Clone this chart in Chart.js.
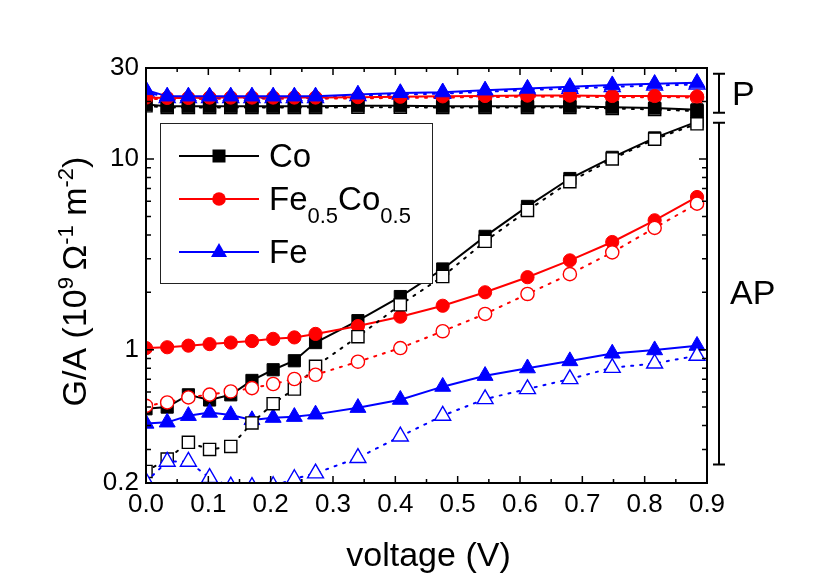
<!DOCTYPE html>
<html>
<head>
<meta charset="utf-8">
<script src="https://cdn.jsdelivr.net/npm/chart.js"></script>
<style>
    body { margin: 0; background: #fff; }
    #wrap { width: 822px; height: 581px; }
</style>
</head>
<body>
<div id="wrap"><canvas id="gaChart" width="822" height="581"></canvas></div>
<script>
// voltage points (V)
const voltage = [0, 0.034, 0.068, 0.102, 0.136, 0.17, 0.204, 0.238, 0.272, 0.34, 0.408, 0.476, 0.544, 0.612, 0.68, 0.748, 0.816, 0.884];

// Co
const coP      = [19.3, 18.9, 18.9, 18.9, 18.9, 18.9, 18.9, 18.9, 18.9, 19.0, 19.0, 18.9, 18.9, 18.9, 18.9, 18.7, 18.5, 18.1];
const coPOpen  = [19.0, 18.6, 18.6, 18.6, 18.6, 18.6, 18.6, 18.6, 18.6, 18.7, 18.7, 18.6, 18.6, 18.6, 18.6, 18.4, 18.2, 17.8];
const coAP     = [0.49, 0.50, 0.58, 0.545, 0.58, 0.69, 0.785, 0.875, 1.09, 1.42, 1.9, 2.65, 3.93, 5.64, 7.9, 10.2, 12.9, 15.7];
const coAPOpen = [0.23, 0.267, 0.327, 0.30, 0.311, 0.413, 0.521, 0.622, 0.818, 1.17, 1.72, 2.42, 3.70, 5.37, 7.6, 10.0, 12.7, 15.3];

// Fe0.5Co0.5
const feCoP      = [21.0, 20.9, 20.9, 21.0, 21.0, 21.0, 21.0, 21.0, 21.0, 21.1, 21.2, 21.3, 21.4, 21.5, 21.5, 21.4, 21.4, 21.3];
const feCoPOpen  = [20.7, 20.6, 20.6, 20.7, 20.7, 20.7, 20.7, 20.7, 20.7, 20.8, 20.9, 21.0, 21.1, 21.2, 21.2, 21.1, 21.1, 21.0];
const feCoAP     = [1.02, 1.03, 1.05, 1.07, 1.09, 1.11, 1.14, 1.16, 1.21, 1.33, 1.49, 1.70, 2.0, 2.40, 2.94, 3.67, 4.77, 6.32];
const feCoAPOpen = [0.508, 0.529, 0.562, 0.581, 0.604, 0.629, 0.661, 0.702, 0.739, 0.865, 1.02, 1.25, 1.54, 1.96, 2.49, 3.24, 4.35, 5.83];

// Fe
const feP      = [23.0, 21.3, 21.3, 21.3, 21.3, 21.3, 21.3, 21.3, 21.3, 21.8, 22.2, 22.4, 22.9, 23.4, 23.9, 24.4, 24.8, 25.1];
const fePOpen  = [22.6, 20.9, 20.9, 20.9, 20.9, 20.9, 20.9, 20.9, 20.9, 21.4, 21.8, 22.0, 22.5, 23.0, 23.4, 23.9, 24.3, 24.6];
const feAP     = [0.41, 0.416, 0.45, 0.468, 0.455, 0.428, 0.44, 0.445, 0.458, 0.496, 0.547, 0.64, 0.73, 0.80, 0.872, 0.956, 0.995, 1.05];
const feAPOpen = [0.203, 0.259, 0.259, 0.213, 0.192, 0.191, 0.193, 0.21, 0.225, 0.271, 0.351, 0.451, 0.551, 0.622, 0.702, 0.804, 0.847, 0.93];

// axes
const xTicks = [0, 0.1, 0.2, 0.3, 0.4, 0.5, 0.6, 0.7, 0.8, 0.9];
const xMinorTicks = [0.05, 0.15, 0.25, 0.35, 0.45, 0.55, 0.65, 0.75, 0.85];
const yTickLabels = [0.2, 1, 10, 30];
const yMinorTicks = [0.3, 0.4, 0.5, 0.6, 0.7, 0.8, 0.9, 2, 3, 4, 5, 6, 7, 8, 9, 20];

// bracket ranges on the right (G/A values)
const pRange = [17.5, 28];
const apRange = [0.25, 15.5];

const FONT = '"Liberation Sans", Arial, sans-serif';
const BLACK = '#000000';
const RED = '#ff0000';
const BLUE = '#0000ff';

const legendItems = [
    { color: BLACK, style: 'rect', parts: [{ t: 'Co' }] },
    { color: RED, style: 'circle', parts: [{ t: 'Fe' }, { t: '0.5', sub: true }, { t: 'Co' }, { t: '0.5', sub: true }] },
    { color: BLUE, style: 'triangle', parts: [{ t: 'Fe' }] }
];

function pts(values) {
    return values.map((v, i) => ({ x: voltage[i], y: v }));
}

function series(values, color, style, radius, open, order) {
    return {
        data: pts(values),
        borderColor: color,
        borderWidth: 2,
        borderDash: open ? [2, 7] : [],
        borderCapStyle: 'round',
        pointStyle: style,
        pointRadius: radius,
        pointBackgroundColor: open ? '#ffffff' : color,
        pointBorderColor: color,
        pointBorderWidth: open ? 1.4 : 1,
        tension: 0,
        clip: 0,
        order: order
    };
}

// draw a marker by hand (legend)
function drawMarker(ctx, style, x, y, color) {
    ctx.fillStyle = color;
    ctx.beginPath();
    if (style === 'rect') {
        ctx.rect(x - 6.5, y - 6.5, 13, 13);
    } else if (style === 'circle') {
        ctx.arc(x, y, 6.8, 0, Math.PI * 2);
    } else {
        ctx.moveTo(x, y - 9);
        ctx.lineTo(x + 8, y + 5);
        ctx.lineTo(x - 8, y + 5);
        ctx.closePath();
    }
    ctx.fill();
}

// text with sub/superscripts, returns width
function richWidth(ctx, parts, size, small) {
    let w = 0;
    parts.forEach(p => {
        ctx.font = ((p.sub || p.sup) ? small : size) + 'px ' + FONT;
        w += ctx.measureText(p.t).width;
    });
    return w;
}

function drawRich(ctx, parts, x, y, size, small, shift) {
    let cx = x;
    parts.forEach(p => {
        ctx.font = ((p.sub || p.sup) ? small : size) + 'px ' + FONT;
        let dy = p.sub ? shift : (p.sup ? -shift : 0);
        ctx.fillText(p.t, cx, y + dy);
        cx += ctx.measureText(p.t).width;
    });
}

const decorPlugin = {
    id: 'decor',
    afterDraw(chart) {
        const { ctx, chartArea: a, scales: { x, y } } = chart;
        ctx.save();

        // frame
        ctx.strokeStyle = BLACK;
        ctx.lineWidth = 2;
        ctx.strokeRect(a.left, a.top, a.right - a.left, a.bottom - a.top);

        // inward ticks on all four sides
        ctx.lineWidth = 1.5;
        ctx.beginPath();
        const xt = (v, len) => {
            const px = x.getPixelForValue(v);
            ctx.moveTo(px, a.bottom); ctx.lineTo(px, a.bottom - len);
            ctx.moveTo(px, a.top); ctx.lineTo(px, a.top + len);
        };
        const yt = (v, len) => {
            const py = y.getPixelForValue(v);
            ctx.moveTo(a.left, py); ctx.lineTo(a.left + len, py);
            ctx.moveTo(a.right, py); ctx.lineTo(a.right - len, py);
        };
        xTicks.forEach(v => xt(v, 7));
        xMinorTicks.forEach(v => xt(v, 4));
        yTickLabels.forEach(v => yt(v, 8));
        yMinorTicks.forEach(v => yt(v, 5));
        ctx.stroke();

        // P / AP brackets
        const bx = a.right + 12;
        ctx.lineWidth = 2;
        ctx.beginPath();
        [pRange, apRange].forEach(r => {
            const y0 = y.getPixelForValue(r[1]);
            const y1 = y.getPixelForValue(r[0]);
            ctx.moveTo(bx, y0); ctx.lineTo(bx, y1);
            ctx.moveTo(bx - 6, y0); ctx.lineTo(bx + 6, y0);
            ctx.moveTo(bx - 6, y1); ctx.lineTo(bx + 6, y1);
        });
        ctx.stroke();
        ctx.fillStyle = BLACK;
        ctx.font = '34px ' + FONT;
        ctx.textBaseline = 'alphabetic';
        ctx.textAlign = 'left';
        ctx.fillText('P', bx + 13, y.getPixelForValue(Math.sqrt(pRange[0] * pRange[1])) + 12);
        ctx.fillText('AP', bx + 11, y.getPixelForValue(Math.sqrt(apRange[0] * apRange[1])) + 10);

        // legend
        const lx = 160, ly = 123, lw = 272, lh = 160;
        ctx.fillStyle = '#ffffff';
        ctx.fillRect(lx, ly, lw, lh);
        ctx.strokeStyle = '#222222';
        ctx.lineWidth = 1;
        ctx.strokeRect(lx + 0.5, ly + 0.5, lw, lh);
        const rows = [156, 199, 252];
        legendItems.forEach((item, i) => {
            const ry = rows[i];
            ctx.strokeStyle = item.color;
            ctx.lineWidth = 2;
            ctx.beginPath();
            ctx.moveTo(lx + 19, ry); ctx.lineTo(lx + 99, ry);
            ctx.stroke();
            drawMarker(ctx, item.style, lx + 59, ry, item.color);
            ctx.fillStyle = BLACK;
            drawRich(ctx, item.parts, lx + 109, ry + 11, 33, 22, 13);
        });

        // x title
        ctx.fillStyle = BLACK;
        ctx.font = '34px ' + FONT;
        ctx.textAlign = 'center';
        ctx.fillText('voltage (V)', (a.left + a.right) / 2 + 2, 566);

        // y title, rotated
        const yParts = [
            { t: 'G/A (10' }, { t: '9', sup: true }, { t: '\u2009\u03A9' }, { t: '-1', sup: true },
            { t: ' m' }, { t: '-2', sup: true }, { t: ')' }
        ];
        ctx.textAlign = 'left';
        const w = richWidth(ctx, yParts, 34, 22);
        ctx.translate(86, (a.top + a.bottom) / 2 + 6);
        ctx.rotate(-Math.PI / 2);
        drawRich(ctx, yParts, -w / 2, 0, 34, 22, 13);

        ctx.restore();
    }
};

const datasets = [
    series(feAPOpen, BLUE, 'triangle', 9.2, true, 1),
    series(feCoAPOpen, RED, 'circle', 6.6, true, 2),
    series(coAPOpen, BLACK, 'rect', 8.6, true, 3),
    series(feAP, BLUE, 'triangle', 9.2, false, 4),
    series(feCoAP, RED, 'circle', 6.6, false, 5),
    series(coAP, BLACK, 'rect', 8.6, false, 6),
    series(feP, BLUE, 'triangle', 9.2, false, 7),
    series(feCoP, RED, 'circle', 6.6, false, 8),
    series(coP, BLACK, 'rect', 8.6, false, 9),
    series(fePOpen, BLUE, 'triangle', 9.2, true, 10),
    series(feCoPOpen, RED, 'circle', 6.6, true, 11),
    series(coPOpen, BLACK, 'rect', 8.6, true, 12)
];

new Chart(document.getElementById('gaChart'), {
    type: 'line',
    data: { datasets: datasets },
    options: {
        responsive: false,
        animation: false,
        events: [],
        layout: { padding: { left: 0, right: 115, top: 68, bottom: 0 } },
        plugins: {
            legend: { display: false },
            tooltip: { enabled: false }
        },
        scales: {
            x: {
                type: 'linear',
                position: 'bottom',
                min: 0,
                max: 0.9,
                grid: { display: false, drawTicks: false },
                border: { display: false },
                afterBuildTicks: (scale) => { scale.ticks = xTicks.map(v => ({ value: v })); },
                afterFit: (scale) => { scale.height = 98; },
                ticks: {
                    color: BLACK,
                    padding: 6,
                    maxRotation: 0,
                    font: { family: FONT, size: 26 },
                    callback: (v) => Number(v).toFixed(1)
                }
            },
            y: {
                type: 'logarithmic',
                position: 'left',
                min: 0.2,
                max: 30,
                grid: { display: false, drawTicks: false },
                border: { display: false },
                afterBuildTicks: (scale) => { scale.ticks = yTickLabels.map(v => ({ value: v })); },
                afterFit: (scale) => { scale.width = 146; },
                ticks: {
                    color: BLACK,
                    padding: 7,
                    font: { family: FONT, size: 26 },
                    callback: (v) => String(v)
                }
            }
        }
    },
    plugins: [decorPlugin]
});
</script>
</body>
</html>
